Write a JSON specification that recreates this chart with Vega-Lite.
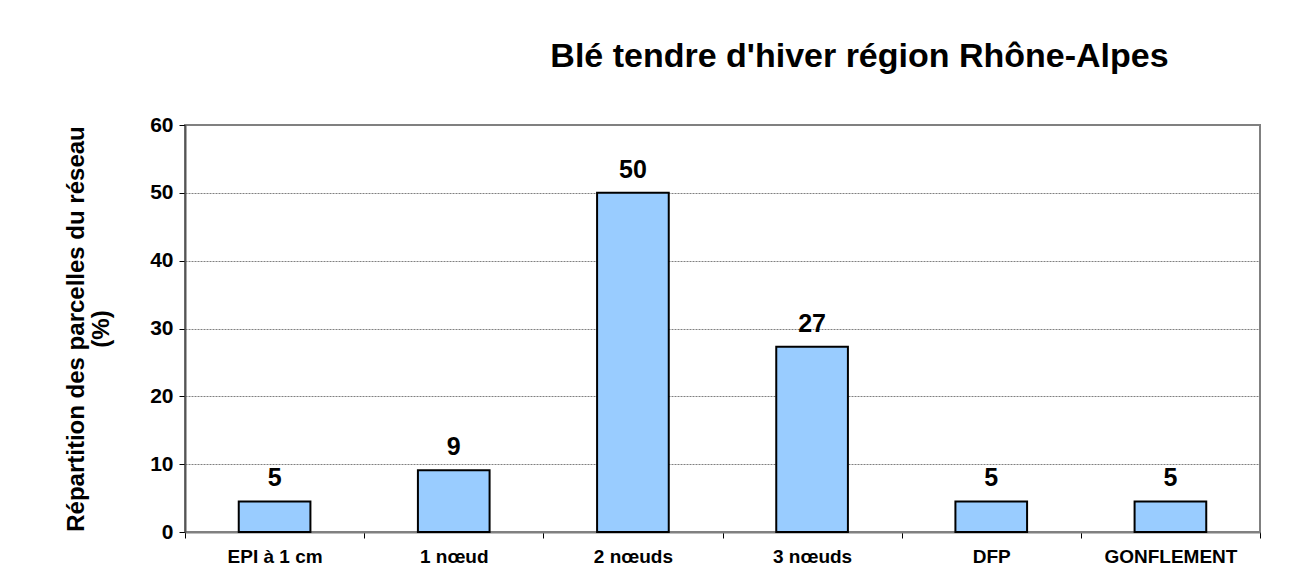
{
  "$schema": "https://vega.github.io/schema/vega-lite/v6.json",
  "width": 1075,
  "height": 407,
  "autosize": "none",
  "padding": {"left": 185, "top": 125, "right": 42, "bottom": 54},
  "background": "white",
  "title": {
    "text": "Blé tendre d'hiver région Rhône-Alpes",
    "font": "Liberation Sans",
    "fontSize": 34,
    "fontWeight": "bold",
    "color": "black",
    "anchor": "middle",
    "dx": 137,
    "offset": 40
  },
  "data": {
    "values": [
      {"stade": "EPI à 1 cm", "pct": 4.5, "label": "5"},
      {"stade": "1 nœud", "pct": 9.1, "label": "9"},
      {"stade": "2 nœuds", "pct": 50, "label": "50"},
      {"stade": "3 nœuds", "pct": 27.3, "label": "27"},
      {"stade": "DFP", "pct": 4.5, "label": "5"},
      {"stade": "GONFLEMENT", "pct": 4.5, "label": "5"}
    ]
  },
  "encoding": {
    "x": {
      "field": "stade",
      "type": "nominal",
      "sort": null,
      "scale": {"paddingInner": 0, "paddingOuter": 0},
      "axis": {
        "title": null,
        "labelAngle": 0,
        "labelFont": "Liberation Sans",
        "labelFontSize": 19,
        "labelFontWeight": "bold",
        "labelColor": "black",
        "labelPadding": 9,
        "tickBand": "extent",
        "tickColor": "black",
        "tickSize": 6,
        "domainColor": "#808080",
        "domainWidth": 2,
        "grid": false
      }
    },
    "y": {
      "field": "pct",
      "type": "quantitative",
      "scale": {"domain": [0, 60]},
      "axis": {
        "values": [0, 10, 20, 30, 40, 50, 60],
        "title": ["Répartition des parcelles du réseau", "(%)"],
        "titleFont": "Liberation Sans",
        "titleFontSize": 24,
        "titleFontWeight": "bold",
        "titleColor": "black",
        "titlePadding": 36,
        "titleLineHeight": 25,
        "labelFont": "Liberation Sans",
        "labelFontSize": 21,
        "labelFontWeight": "bold",
        "labelColor": "black",
        "labelPadding": 6,
        "tickColor": "black",
        "tickSize": 6,
        "domainColor": "#555555",
        "domainWidth": 2,
        "grid": true,
        "gridColor": "#808080",
        "gridDash": [2, 1],
        "gridWidth": 1
      }
    }
  },
  "layer": [
    {
      "mark": {
        "type": "bar",
        "width": {"band": 0.4},
        "fill": "#99CCFF",
        "stroke": "black",
        "strokeWidth": 2
      }
    },
    {
      "mark": {
        "type": "text",
        "font": "Liberation Sans",
        "fontSize": 25,
        "fontWeight": "bold",
        "color": "black",
        "baseline": "alphabetic",
        "dy": -15
      },
      "encoding": {"text": {"field": "label"}}
    }
  ],
  "config": {
    "view": {"stroke": "#808080", "strokeWidth": 2}
  }
}
